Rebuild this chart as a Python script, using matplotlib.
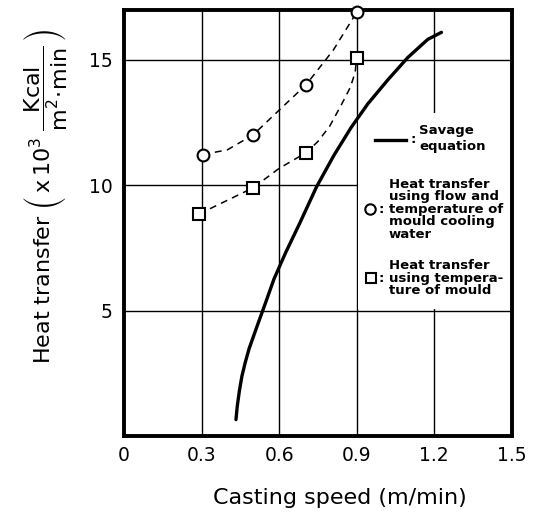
import numpy as np
import matplotlib
matplotlib.use("Agg")
import matplotlib.pyplot as plt
from matplotlib.patches import Rectangle

flow_speed = [0.305, 0.50, 0.705, 0.90]
flow_heat = [11.23, 12.02, 14.02, 16.9]
# dashed guide through the circles
flow_curve_speed = [0.305, 0.40, 0.50, 0.60, 0.705, 0.81, 0.90]
flow_curve_heat = [11.23, 11.42, 12.02, 13.0, 14.02, 15.4, 16.9]

mould_speed = [0.29, 0.50, 0.705, 0.90]
mould_heat = [8.86, 9.91, 11.31, 15.08]
# dashed guide through the squares
mould_curve_speed = [0.29, 0.40, 0.50, 0.60, 0.705, 0.75, 0.795, 0.84, 0.875, 0.894, 0.90]
mould_curve_heat = [8.86, 9.41, 9.91, 10.68, 11.31, 11.75, 12.35, 13.2, 13.9, 14.5, 15.08]

# Savage equation curve
savage_speed = [0.433, 0.438, 0.446, 0.456, 0.469, 0.484, 0.515, 0.548, 0.580, 0.626, 0.680,
                0.745, 0.812, 0.878, 0.943, 1.02, 1.098, 1.175, 1.228]
savage_heat = [0.67, 1.2, 1.8, 2.4, 2.95, 3.5, 4.4, 5.34, 6.27, 7.34, 8.5,
               9.95, 11.2, 12.3, 13.25, 14.2, 15.1, 15.82, 16.1]

x_ticks = [0, 0.3, 0.6, 0.9, 1.2, 1.5]
x_tick_labels = ["0", "0.3", "0.6", "0.9", "1.2", "1.5"]
y_ticks = [5, 10, 15]

fig = plt.figure(figsize=(5.37, 5.14), dpi=100)
ax = fig.add_axes([0.231, 0.151, 0.722, 0.830])

ax.set_xlim(0, 1.5)
ax.set_ylim(0, 17)

# grid lines
for xv in x_ticks[1:-1]:
    ax.axvline(xv, color="black", lw=1.0, zorder=1)
for yv in y_ticks:
    ax.axhline(yv, color="black", lw=1.0, zorder=1)

# white legend area covering the grid
ax.add_patch(Rectangle((0.905, 5.08), 0.6, 7.82, facecolor="white",
                       edgecolor="none", zorder=2))

dash = (0, (4.5, 3.5))
ax.plot(flow_curve_speed, flow_curve_heat, ls=dash, color="black", lw=1.1, zorder=3)
ax.plot(mould_curve_speed, mould_curve_heat, ls=dash, color="black", lw=1.1, zorder=3)
ax.plot(flow_speed, flow_heat, ls="none", marker="o", ms=8.5, mfc="white",
        mec="black", mew=1.5, zorder=4, clip_on=False)
ax.plot(mould_speed, mould_heat, ls="none", marker="s", ms=8, mfc="white",
        mec="black", mew=1.5, zorder=4)
ax.plot(savage_speed, savage_heat, color="black", lw=2.4, zorder=3,
        solid_capstyle="round", solid_joinstyle="round")

for side in ax.spines.values():
    side.set_linewidth(2.8)

ax.set_xticks(x_ticks)
ax.set_xticklabels(x_tick_labels)
ax.set_yticks(y_ticks)
ax.tick_params(length=0, labelsize=13.5)
ax.tick_params(axis="x", pad=7)
ax.tick_params(axis="y", pad=8)

fig.text(340 / 537, 1 - 498 / 514, "Casting speed (m/min)", fontsize=16,
         ha="center", va="center")
fig.text(45 / 537, 1 - 196 / 514,
         r"Heat transfer $\left(\,\mathrm{x\,10^3}\;\dfrac{\mathrm{Kcal}}{\mathrm{m^2\!\cdot\!min}}\,\right)$",
         fontsize=16, rotation=90, ha="center", va="center")

# legend drawn by hand
fs = 9.5
ax.plot([0.969, 1.092], [11.83, 11.83], color="black", lw=2.4, zorder=5)
ax.text(1.108, 11.85, ":", fontsize=fs, fontweight="bold", va="center", zorder=5)
ax.text(1.141, 12.2, "Savage", fontsize=fs, fontweight="bold", va="center", zorder=5)
ax.text(1.141, 11.56, "equation", fontsize=fs, fontweight="bold", va="center", zorder=5)

ax.plot([0.951], [9.05], marker="o", ms=7.5, mfc="white", mec="black", mew=1.5, zorder=5)
ax.text(0.985, 9.05, ":", fontsize=fs, fontweight="bold", va="center", zorder=5)
ax.text(1.025, 9.05, "Heat transfer\nusing flow and\ntemperature of\nmould cooling\nwater",
        fontsize=fs, fontweight="bold", va="center", linespacing=0.95, zorder=5)

ax.plot([0.957], [6.3], marker="s", ms=7, mfc="white", mec="black", mew=1.5, zorder=5)
ax.text(0.985, 6.3, ":", fontsize=fs, fontweight="bold", va="center", zorder=5)
ax.text(1.025, 6.3, "Heat transfer\nusing tempera-\nture of mould",
        fontsize=fs, fontweight="bold", va="center", linespacing=0.95, zorder=5)

fig.savefig("out.png", dpi=100)
